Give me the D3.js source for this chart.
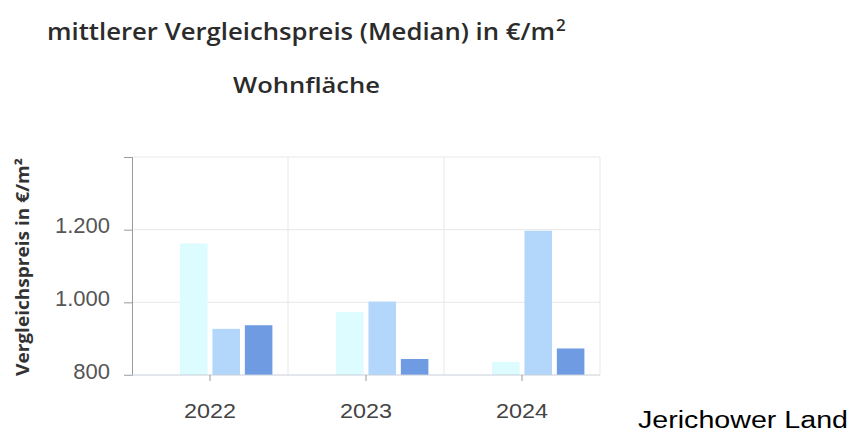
<!DOCTYPE html>
<html>
<head>
<meta charset="utf-8">
<script src="https://cdn.jsdelivr.net/npm/d3@7"></script>
<style>
  body { margin: 0; background: #fff; }
  svg { display: block; }
</style>
</head>
<body>
<script>
var years = ["2022", "2023", "2024"];
var seriesNames = ["s0", "s1", "s2", "s3"];
// first series has no visible value in the picture
var s0 = [null, null, null];
var s1 = [1162, 973, 836];
var s2 = [927, 1002, 1197];
var s3 = [937, 844, 873];
var yTicks = [800, 1000, 1200, 1400];
var tickLabels = ["800", "1.000", "1.200", ""];

var values = [s0, s1, s2, s3];
var colors = ["#dcfcff", "#dcfcff", "#b2d7fb", "#6f9be3"];

var w = 854, h = 436;
var plotL = 132, plotR = 600, plotT = 157, plotB = 375;

var svg = d3.select("body").append("svg").attr("width", w).attr("height", h);

var x0 = d3.scaleBand().domain(years).range([plotL, plotR]).paddingInner(0.2).paddingOuter(0.1);
var x1 = d3.scaleBand().domain(seriesNames).range([0, x0.bandwidth()]).paddingInner(0.15);
var y = d3.scaleLinear().domain([800, 1400]).range([plotB, plotT]);

// grid
var grid = svg.append("g");
grid.selectAll("line.h")
  .data(yTicks.slice(1))
  .enter().append("line")
    .attr("x1", plotL).attr("x2", plotR)
    .attr("y1", function(d) { return y(d); })
    .attr("y2", function(d) { return y(d); })
    .attr("stroke", "#e8e8e8");
var step = x0.step();
grid.selectAll("line.v")
  .data([1, 2, 3])
  .enter().append("line")
    .attr("x1", function(d) { return plotL + d * step; })
    .attr("x2", function(d) { return plotL + d * step; })
    .attr("y1", plotT).attr("y2", plotB)
    .attr("stroke", "#e8e8e8");

// bars
var groups = svg.append("g").selectAll("g")
  .data(years)
  .enter().append("g")
    .attr("transform", function(d) { return "translate(" + x0(d) + ",0)"; });

groups.selectAll("rect")
  .data(function(d, i) {
    return seriesNames.map(function(s, j) { return { key: s, idx: j, value: values[j][i] }; })
      .filter(function(e) { return e.value != null; });
  })
  .enter().append("rect")
    .attr("x", function(d) { return x1(d.key); })
    .attr("y", function(d) { return y(d.value); })
    .attr("width", x1.bandwidth())
    .attr("height", function(d) { return y(800) - y(d.value); })
    .attr("fill", function(d) { return colors[d.idx]; });

// y axis
var yAxis = d3.axisLeft(y).tickValues(yTicks).tickSize(8).tickPadding(14)
  .tickFormat(function(d, i) { return tickLabels[i]; });
var ya = svg.append("g").attr("transform", "translate(" + plotL + ",0)").call(yAxis);
ya.select(".domain").attr("stroke", "#999");
ya.selectAll(".tick line").attr("stroke", "#999");
ya.selectAll(".tick text")
  .attr("y", -4)
  .attr("fill", "#555")
  .style("font-family", "'Liberation Sans', Arial, sans-serif")
  .style("font-size", "22px");

// baseline
svg.append("line")
  .attr("x1", plotL - 8).attr("x2", plotR)
  .attr("y1", y(800)).attr("y2", y(800))
  .attr("stroke", "#c8cfd8");

// x axis
var xAxis = d3.axisBottom(x0).tickSize(6).tickPadding(22);
var xa = svg.append("g").attr("transform", "translate(0," + plotB + ")").call(xAxis);
xa.select(".domain").remove();
xa.selectAll(".tick line").attr("stroke", "#999");
xa.selectAll(".tick text")
  .attr("fill", "#444")
  .style("font-family", "'Liberation Sans', Arial, sans-serif")
  .style("font-size", "21px")
  .attr("textLength", 52)
  .attr("lengthAdjust", "spacingAndGlyphs");

// y label
svg.append("text")
  .attr("transform", "translate(29,267) rotate(-90)")
  .attr("text-anchor", "middle")
  .style("font-family", "'Open Sans', 'Noto Sans', sans-serif")
  .style("font-size", "17px")
  .style("font-weight", "700")
  .attr("fill", "#333")
  .attr("textLength", 218)
  .attr("lengthAdjust", "spacingAndGlyphs")
  .text("Vergleichspreis in €/m²");

// titles
svg.append("text")
  .attr("x", 47).attr("y", 40)
  .style("font-family", "'Open Sans', 'Noto Sans', sans-serif")
  .style("font-size", "24px")
  .style("font-weight", "600")
  .attr("fill", "#2b2b2b")
  .attr("textLength", 508)
  .attr("lengthAdjust", "spacingAndGlyphs")
  .text("mittlerer Vergleichspreis (Median) in €/m");
svg.append("text")
  .attr("x", 556).attr("y", 31)
  .style("font-family", "'Open Sans', 'Noto Sans', sans-serif")
  .style("font-size", "17px")
  .style("font-weight", "600")
  .attr("fill", "#2b2b2b")
  .text("2");

svg.append("text")
  .attr("x", 233).attr("y", 93)
  .style("font-family", "'Open Sans', 'Noto Sans', sans-serif")
  .style("font-size", "22px")
  .style("font-weight", "600")
  .attr("fill", "#2b2b2b")
  .attr("textLength", 147)
  .attr("lengthAdjust", "spacingAndGlyphs")
  .text("Wohnfläche");

svg.append("text")
  .attr("x", 638).attr("y", 428)
  .style("font-family", "'Liberation Sans', Arial, sans-serif")
  .style("font-size", "23px")
  .attr("fill", "#000")
  .attr("textLength", 210)
  .attr("lengthAdjust", "spacingAndGlyphs")
  .text("Jerichower Land");
</script>
</body>
</html>
